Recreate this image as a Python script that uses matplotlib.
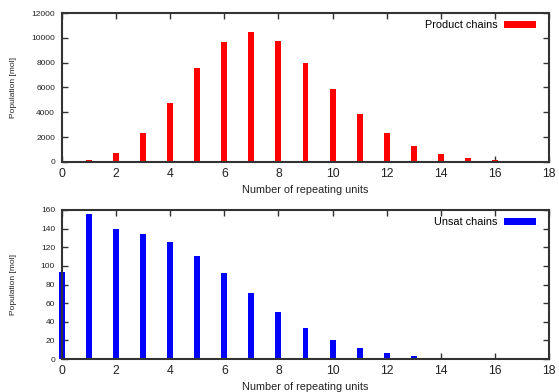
import matplotlib
matplotlib.use("Agg")
import matplotlib.pyplot as plt

plt.rcParams['font.family'] = ['Liberation Sans', 'DejaVu Sans']

# Data
product_x = [1, 2, 3, 4, 5, 6, 7, 8, 9, 10, 11, 12, 13, 14, 15, 16, 17, 18]
product_y = [130, 750, 2300, 4750, 7550, 9670, 10440, 9720, 7970, 5850, 3860, 2330, 1310, 670, 320, 160, 30, 10]
unsat_x = [0, 1, 2, 3, 4, 5, 6, 7, 8, 9, 10, 11, 12, 13, 14, 15, 16]
unsat_y = [93, 155.7, 139.9, 133.9, 125.3, 110.9, 92, 70.5, 50.5, 33.3, 20.4, 11.5, 6.1, 2.9, 1.3, 0.5, 0.2]

x_ticks = [0, 2, 4, 6, 8, 10, 12, 14, 16, 18]
top_yticks = [0, 2000, 4000, 6000, 8000, 10000, 12000]
bot_yticks = [0, 20, 40, 60, 80, 100, 120, 140, 160]

fig = plt.figure(figsize=(5.59, 3.92), dpi=100)
W, H = 559, 392
LEFT, RIGHT = 62, 549

def make_axes(top_px, bottom_px):
    return fig.add_axes([LEFT / W, 1 - bottom_px / H, (RIGHT - LEFT) / W, (bottom_px - top_px) / H])

ax1 = make_axes(13, 162)
ax2 = make_axes(210, 359)

def style(ax, yticks, ymax):
    ax.set_xlim(0, 18)
    ax.set_ylim(0, ymax)
    ax.set_xticks(x_ticks)
    ax.set_yticks(yticks)
    for s in ax.spines.values():
        s.set_linewidth(1.5)
        s.set_color('#333333')
        s.set_zorder(5)
    ax.tick_params(direction='in', top=True, right=True, length=4, width=1.0, color='#333333')
    ax.tick_params(axis='x', labelsize=8.8, pad=4, colors='#333333', labelcolor='#222222')
    ax.tick_params(axis='y', labelsize=6, pad=5, colors='#333333', labelcolor='#222222')
    ax.set_xlabel('Number of repeating units', fontsize=7.8, color='#222222', labelpad=4)
    ax.set_ylabel('Population [mol]', fontsize=6, color='#222222')
    ax.yaxis.set_label_coords((16.7 - LEFT) / (RIGHT - LEFT), 0.5)

ax1.bar(product_x, product_y, width=0.22, color='#ff0000', label='Product chains', clip_on=False, zorder=3)
ax2.bar(unsat_x, unsat_y, width=0.22, color='#0000ff', label='Unsat chains', clip_on=False, zorder=3)

style(ax1, top_yticks, 12000)
style(ax2, bot_yticks, 160)

for ax in (ax1, ax2):
    ax.legend(loc='upper right', frameon=False, markerfirst=False, fontsize=7.8,
              handlelength=2.9, handleheight=0.6, handletextpad=0.6,
              borderaxespad=0.25, bbox_to_anchor=((536 - LEFT) / (RIGHT - LEFT) + 0.014, 1.0))

fig.savefig('out.png', dpi=100)
